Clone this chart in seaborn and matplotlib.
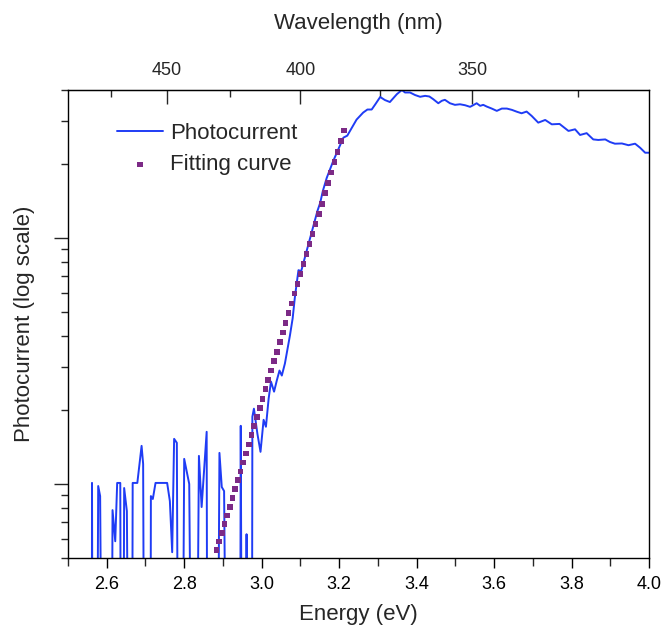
import numpy as np
import pandas as pd
import matplotlib
matplotlib.use("Agg")
import matplotlib.pyplot as plt
import matplotlib.ticker as mticker
import seaborn as sns

# photocurrent (arb. units); 0.01 marks points that fall below the axis
energy = [
    2.561, 2.562, 2.565, 2.572, 2.578, 2.583, 2.592, 2.610, 2.615, 2.622,
    2.627, 2.635, 2.638, 2.641, 2.645, 2.652, 2.661, 2.664, 2.667, 2.679,
    2.690, 2.694, 2.699, 2.712, 2.714, 2.719, 2.726, 2.756, 2.763, 2.769,
    2.774, 2.781, 2.787, 2.792, 2.800, 2.813, 2.824, 2.828, 2.838, 2.845,
    2.858, 2.861, 2.883, 2.891, 2.897, 2.903, 2.914, 2.943, 2.946, 2.951,
    2.958, 2.961, 2.965, 2.974, 2.976, 2.980, 2.989, 2.997, 3.005, 3.011,
    3.018, 3.024, 3.032, 3.039, 3.046, 3.052, 3.060, 3.073, 3.080, 3.086,
    3.095, 3.102, 3.109, 3.125, 3.144, 3.151, 3.158, 3.168, 3.178, 3.185,
    3.194, 3.202, 3.211, 3.221, 3.233, 3.245, 3.262, 3.273, 3.284, 3.293,
    3.306, 3.318, 3.331, 3.349, 3.362, 3.370, 3.383, 3.396, 3.409, 3.422,
    3.433, 3.443, 3.456, 3.465, 3.473, 3.486, 3.499, 3.512, 3.525, 3.538,
    3.546, 3.555, 3.564, 3.572, 3.581, 3.594, 3.607, 3.620, 3.633, 3.646,
    3.659, 3.671, 3.684, 3.697, 3.714, 3.732, 3.749, 3.769, 3.779, 3.792,
    3.809, 3.822, 3.839, 3.856, 3.869, 3.887, 3.899, 3.912, 3.930, 3.947,
    3.964, 3.977, 3.990, 4.000,
]
photocurrent = [
    0.01, 1.01, 0.01, 0.01, 0.981, 0.893, 0.01, 0.01, 0.783, 0.585,
    1.01, 1.01, 0.01, 0.01, 0.963, 0.776, 0.01, 0.01, 1.01, 1.01,
    1.429, 1.207, 0.01, 0.01, 0.893, 0.869, 1.01, 1.01, 0.852, 0.528,
    1.526, 1.470, 0.01, 0.01, 1.265, 1.0, 0.01, 0.01, 1.301, 0.806,
    1.630, 0.01, 0.01, 1.338, 0.972, 0.936, 0.01, 0.01, 1.724, 0.01,
    0.01, 0.625, 0.01, 0.01, 1.877, 2.024, 1.600, 1.351, 1.824, 1.709,
    2.223, 2.608, 2.374, 2.633, 2.892, 2.760, 3.089, 4.019, 4.716, 5.799,
    7.403, 7.333, 8.054, 10.0, 12.89, 13.89, 15.55, 17.57, 19.31, 20.62,
    22.23, 23.74, 25.60, 26.08, 28.11, 30.31, 32.37, 33.31, 33.31, 34.91,
    37.46, 36.41, 35.73, 38.45, 40.0, 39.07, 39.07, 38.15, 37.53, 37.86,
    37.63, 36.69, 35.33, 36.14, 36.48, 35.33, 34.80, 34.99, 34.68, 34.16,
    34.68, 35.33, 34.48, 34.80, 34.25, 33.61, 32.89, 33.61, 33.61, 33.20,
    32.62, 32.16, 32.68, 31.38, 29.46, 30.21, 29.00, 29.11, 28.30, 27.26,
    27.68, 26.25, 26.70, 25.18, 25.05, 25.18, 24.58, 24.19, 24.24, 23.85,
    24.19, 23.29, 22.23, 22.23,
]

# fitting curve, one point per nm from 430 to 386 nm
fit_energy = [
    2.8837, 2.8904, 2.8972, 2.9040, 2.9108, 2.9176, 2.9245, 2.9314, 2.9384,
    2.9454, 2.9524, 2.9594, 2.9665, 2.9736, 2.9808, 2.9880, 2.9952, 3.0024,
    3.0097, 3.0170, 3.0244, 3.0318, 3.0392, 3.0467, 3.0542, 3.0617, 3.0693,
    3.0769, 3.0846, 3.0923, 3.1000, 3.1078, 3.1156, 3.1234, 3.1313, 3.1392,
    3.1472, 3.1552, 3.1633, 3.1714, 3.1795, 3.1877, 3.1959, 3.2041, 3.2124,
]
fit_value = [
    0.538, 0.583, 0.633, 0.686, 0.744, 0.807, 0.877, 0.953, 1.035,
    1.125, 1.224, 1.331, 1.449, 1.578, 1.718, 1.871, 2.042, 2.223,
    2.427, 2.649, 2.891, 3.162, 3.451, 3.776, 4.130, 4.519, 4.943,
    5.420, 5.943, 6.516, 7.145, 7.834, 8.610, 9.441, 10.38, 11.40,
    12.56, 13.80, 15.21, 16.75, 18.45, 20.37, 22.44, 24.77, 27.35,
]

x_major = [2.6, 2.8, 3.0, 3.2, 3.4, 3.6, 3.8, 4.0]
x_minor = [2.5, 2.7, 2.9, 3.1, 3.3, 3.5, 3.7, 3.9]
wl_major = [450, 400, 350]
wl_minor = [475, 425, 375, 325]

sns.set_style("white")
plt.rcParams["font.family"] = ["Liberation Sans", "DejaVu Sans"]

fig = plt.figure(figsize=(6.62, 6.27), dpi=100)
ax = fig.add_axes([0.1027, 0.110, 0.8777, 0.7465])
ax.set_yscale("log")

line_df = pd.DataFrame({"E": energy, "I": photocurrent})
fit_df = pd.DataFrame({"E": fit_energy, "I": fit_value})

sns.lineplot(data=line_df, x="E", y="I", sort=False, estimator=None,
             color="#1f3cf5", linewidth=1.4, label="Photocurrent", ax=ax)
sns.scatterplot(data=fit_df, x="E", y="I", marker="s", s=17,
                color="#7c2a86", edgecolor="none", label="Fitting curve",
                ax=ax, zorder=3)

ax.set_xlim(2.5, 4.0)
ax.set_ylim(0.5, 40)

ax.xaxis.set_major_locator(mticker.FixedLocator(x_major))
ax.xaxis.set_minor_locator(mticker.FixedLocator(x_minor))
ax.xaxis.set_major_formatter(mticker.FormatStrFormatter("%.1f"))
ax.yaxis.set_major_locator(mticker.LogLocator(base=10, numticks=10))
ax.yaxis.set_minor_locator(mticker.LogLocator(base=10, subs=np.arange(2, 10), numticks=10))
ax.yaxis.set_major_formatter(mticker.NullFormatter())
ax.yaxis.set_minor_formatter(mticker.NullFormatter())

ax.tick_params(axis="x", which="major", direction="out", length=7, width=1,
               labelsize=13, colors="black", pad=6, bottom=True)
ax.tick_params(axis="x", which="minor", direction="out", length=6, width=1, bottom=True)
ax.tick_params(axis="y", which="major", direction="out", length=10, width=1, left=True)
ax.tick_params(axis="y", which="minor", direction="out", length=5, width=1, left=True)

for sp in ax.spines.values():
    sp.set_color("black")
    sp.set_linewidth(1.0)

ax.set_xlabel("Energy (eV)", fontsize=16, labelpad=8)
ax.set_ylabel("Photocurrent (log scale)", fontsize=16, labelpad=10)

top = ax.secondary_xaxis("top", functions=(lambda e: 1240.0 / e, lambda w: 1240.0 / w))
top.xaxis.set_major_locator(mticker.FixedLocator(wl_major))
top.xaxis.set_minor_locator(mticker.FixedLocator(wl_minor))
top.xaxis.set_major_formatter(mticker.FormatStrFormatter("%d"))
top.tick_params(axis="x", which="major", direction="in", length=10, width=1,
                labelsize=13, pad=8)
top.tick_params(axis="x", which="minor", direction="in", length=5, width=1)
top.set_xlabel("Wavelength (nm)", fontsize=16, labelpad=24)

ax.legend(loc="upper left", bbox_to_anchor=(0.084, 0.929), frameon=False,
          fontsize=16, handlelength=2.1, handletextpad=0.3, labelspacing=0.45,
          borderpad=0, borderaxespad=0, markerscale=1.0)

fig.savefig("out.png", dpi=100)
